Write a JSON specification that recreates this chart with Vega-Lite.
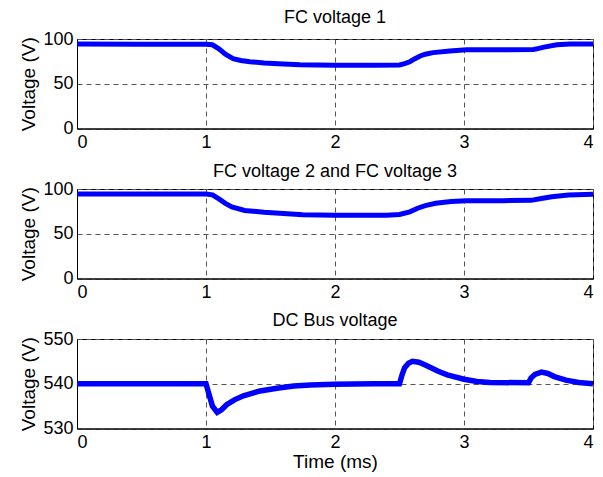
{
  "$schema": "https://vega.github.io/schema/vega-lite/v6.json",
  "background": "white",
  "padding": {"left": 19, "top": 8, "right": 4, "bottom": 3},
  "bounds": "flush",
  "spacing": 60,
  "config": {
    "font": "Liberation Sans",
    "view": {"stroke": "black", "strokeWidth": 1},
    "axis": {
      "labelFont": "Liberation Sans", "titleFont": "Liberation Sans",
      "labelFontSize": 18, "titleFontSize": 19, "labelColor": "black", "titleColor": "black",
      "titleFontWeight": "normal", "domainColor": "black", "ticks": false,
      "grid": true, "gridColor": "#555", "gridDash": [5, 4], "gridOpacity": 1, "gridWidth": 1
    },
    "title": {"font": "Liberation Sans", "fontSize": 18, "fontWeight": "normal", "color": "black", "offset": 5}
  },
  "datasets": {
    "p1": [
      {"t": 0, "v": 94.3}, {"t": 0.5, "v": 94}, {"t": 1.0, "v": 94}, {"t": 1.05, "v": 93.5},
      {"t": 1.1, "v": 89}, {"t": 1.15, "v": 83}, {"t": 1.21, "v": 78}, {"t": 1.27, "v": 76},
      {"t": 1.34, "v": 74.6}, {"t": 1.45, "v": 73.2}, {"t": 1.6, "v": 72.2}, {"t": 1.73, "v": 71.2},
      {"t": 2.0, "v": 70.8}, {"t": 2.3, "v": 70.8}, {"t": 2.5, "v": 71}, {"t": 2.54, "v": 72.5},
      {"t": 2.58, "v": 74.6}, {"t": 2.62, "v": 78}, {"t": 2.66, "v": 81}, {"t": 2.7, "v": 83},
      {"t": 2.76, "v": 84.8}, {"t": 2.89, "v": 86.7}, {"t": 3.02, "v": 87.9}, {"t": 3.3, "v": 88},
      {"t": 3.54, "v": 88.3}, {"t": 3.58, "v": 89.5}, {"t": 3.62, "v": 90.9}, {"t": 3.72, "v": 93.5},
      {"t": 3.82, "v": 94.5}, {"t": 4.0, "v": 94.3}
    ],
    "p2": [
      {"t": 0, "v": 94.4}, {"t": 1.0, "v": 94.4}, {"t": 1.05, "v": 93.5}, {"t": 1.1, "v": 89},
      {"t": 1.15, "v": 84}, {"t": 1.2, "v": 80}, {"t": 1.3, "v": 76}, {"t": 1.45, "v": 74},
      {"t": 1.6, "v": 72.5}, {"t": 1.75, "v": 71.2}, {"t": 2.0, "v": 70.8}, {"t": 2.4, "v": 70.8},
      {"t": 2.5, "v": 71.5}, {"t": 2.58, "v": 74.5}, {"t": 2.64, "v": 78.5}, {"t": 2.7, "v": 81.5},
      {"t": 2.78, "v": 84}, {"t": 2.9, "v": 86}, {"t": 3.02, "v": 87}, {"t": 3.3, "v": 87},
      {"t": 3.52, "v": 87.3}, {"t": 3.6, "v": 89.3}, {"t": 3.68, "v": 91.4}, {"t": 3.81, "v": 93.3},
      {"t": 4.0, "v": 94}
    ],
    "p3": [
      {"t": 0, "v": 540}, {"t": 1.0, "v": 540}, {"t": 1.01, "v": 539}, {"t": 1.03, "v": 537},
      {"t": 1.05, "v": 535}, {"t": 1.087, "v": 533.6}, {"t": 1.12, "v": 534.2}, {"t": 1.16, "v": 535.3},
      {"t": 1.22, "v": 536.4}, {"t": 1.29, "v": 537.3}, {"t": 1.42, "v": 538.4}, {"t": 1.55, "v": 539},
      {"t": 1.68, "v": 539.5}, {"t": 1.81, "v": 539.7}, {"t": 1.99, "v": 539.9}, {"t": 2.3, "v": 540},
      {"t": 2.5, "v": 540}, {"t": 2.52, "v": 542}, {"t": 2.54, "v": 543.6}, {"t": 2.57, "v": 544.6},
      {"t": 2.6, "v": 545}, {"t": 2.65, "v": 544.8}, {"t": 2.7, "v": 544.2}, {"t": 2.8, "v": 542.8},
      {"t": 2.87, "v": 542}, {"t": 3.0, "v": 541}, {"t": 3.1, "v": 540.5}, {"t": 3.2, "v": 540.3},
      {"t": 3.5, "v": 540.2}, {"t": 3.52, "v": 541.3}, {"t": 3.55, "v": 542.1}, {"t": 3.6, "v": 542.6},
      {"t": 3.65, "v": 542.3}, {"t": 3.7, "v": 541.6}, {"t": 3.79, "v": 540.8}, {"t": 3.89, "v": 540.3},
      {"t": 4.0, "v": 540}
    ]
  },
  "vconcat": [
    {
      "title": {"text": "FC voltage 1", "offset": 3},
      "width": 516, "height": 89.5,
      "data": {"name": "p1"},
      "mark": {"type": "line", "color": "#0000FF", "strokeWidth": 5, "clip": true},
      "encoding": {
        "x": {"field": "t", "type": "quantitative", "scale": {"domain": [0, 4], "nice": false}, "axis": {"values": [0, 1, 2, 3, 4], "title": null, "labelPadding": 5}},
        "y": {"field": "v", "type": "quantitative", "scale": {"domain": [0, 100], "nice": false}, "axis": {"values": [0, 50, 100], "title": "Voltage (V)", "labelPadding": 4, "titlePadding": 4}}
      }
    },
    {
      "title": {"text": "FC voltage 2 and FC voltage 3", "offset": -1},
      "width": 516, "height": 89.5,
      "data": {"name": "p2"},
      "mark": {"type": "line", "color": "#0000FF", "strokeWidth": 5, "clip": true},
      "encoding": {
        "x": {"field": "t", "type": "quantitative", "scale": {"domain": [0, 4], "nice": false}, "axis": {"values": [0, 1, 2, 3, 4], "title": null, "labelPadding": 5}},
        "y": {"field": "v", "type": "quantitative", "scale": {"domain": [0, 100], "nice": false}, "axis": {"values": [0, 50, 100], "title": "Voltage (V)", "labelPadding": 4, "titlePadding": 4}}
      }
    },
    {
      "title": {"text": "DC Bus voltage", "offset": 0},
      "width": 516, "height": 89.5,
      "data": {"name": "p3"},
      "mark": {"type": "line", "color": "#0000FF", "strokeWidth": 5.5, "clip": true},
      "encoding": {
        "x": {"field": "t", "type": "quantitative", "scale": {"domain": [0, 4], "nice": false}, "axis": {"values": [0, 1, 2, 3, 4], "title": "Time (ms)", "labelPadding": 5, "titlePadding": 1}},
        "y": {"field": "v", "type": "quantitative", "scale": {"domain": [530, 550], "nice": false}, "axis": {"values": [530, 540, 550], "title": "Voltage (V)", "labelPadding": 4, "titlePadding": 4}}
      }
    }
  ]
}
